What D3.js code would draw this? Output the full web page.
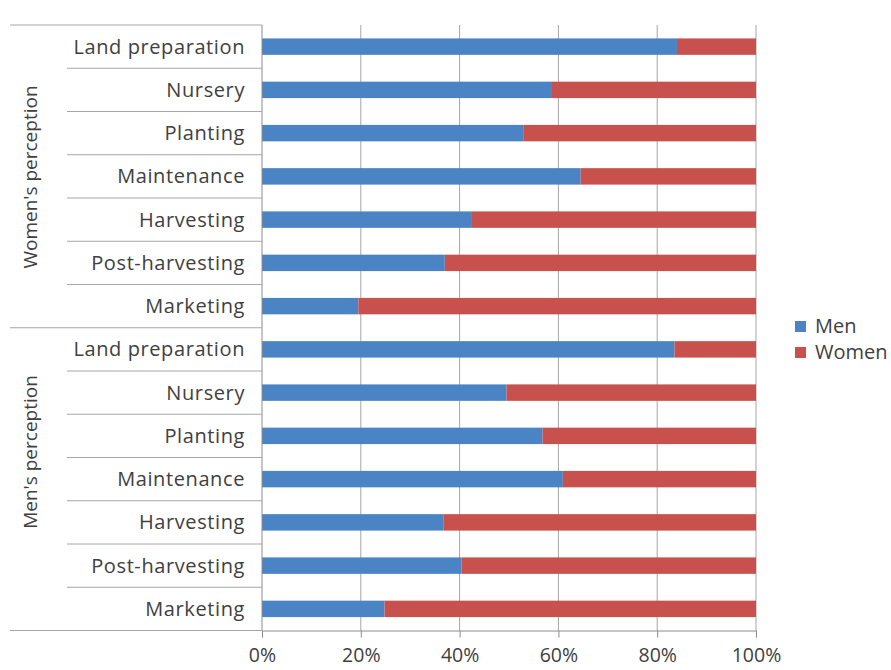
<!DOCTYPE html>
<html>
<head>
<meta charset="utf-8">
<script src="https://cdn.jsdelivr.net/npm/d3@7"></script>
<style>
  body { margin: 0; background: #fff; }
  svg { display: block; font-family: "Open Sans", sans-serif; }
  .cat-label { font-size: 20px; letter-spacing: 0.6px; fill: #404040; }
  .group-label { font-size: 19px; fill: #404040; }
  .tick text { font-size: 19.5px; fill: #404040; }
  .legend text { font-size: 20px; fill: #404040; }
</style>
</head>
<body>
<svg id="chart" width="891" height="670"></svg>
<script>
// ---- data (percent of activity done by men / women) ----
const groups = ["Women's perception", "Men's perception"];
const activities = ["Land preparation", "Nursery", "Planting", "Maintenance",
                    "Harvesting", "Post-harvesting", "Marketing"];
const menByWomenView   = [84, 58.7, 53, 64.5, 42.5, 37, 19.5];
const womenByWomenView = [16, 41.3, 47, 35.5, 57.5, 63, 80.5];
const menByMenView     = [83.5, 49.5, 56.8, 60.9, 36.7, 40.4, 24.8];
const womenByMenView   = [16.5, 50.5, 43.2, 39.1, 63.3, 59.6, 75.2];
const series = ["Men", "Women"];
const colors = ["#4a84c4", "#c9514d"];
const xTicks = [0, 0.2, 0.4, 0.6, 0.8, 1];

const rows = [];
groups.forEach((g, gi) => {
  const menVals = gi === 0 ? menByWomenView : menByMenView;
  const womenVals = gi === 0 ? womenByWomenView : womenByMenView;
  activities.forEach((a, i) => {
    rows.push({ key: g + "|" + a, group: g, activity: a, Men: menVals[i] / 100, Women: womenVals[i] / 100 });
  });
});

const svg = d3.select("#chart");
const plot = { left: 262, right: 756, top: 25, bottom: 630.5 };

const x = d3.scaleLinear().domain([0, 1]).range([plot.left, plot.right]);
const pad = 0.62;
const y = d3.scaleBand()
  .domain(rows.map(d => d.key))
  .range([plot.top, plot.bottom])
  .paddingInner(pad)
  .paddingOuter(pad / 2);
const gap = (y.step() - y.bandwidth()) / 2;

// gridlines
svg.append("g")
  .selectAll("line")
  .data(xTicks.slice(1))
  .join("line")
  .attr("x1", d => x(d)).attr("x2", d => x(d))
  .attr("y1", plot.top).attr("y2", plot.bottom)
  .attr("stroke", "#a6a6a6")
  .attr("stroke-width", 1);

// stacked bars
const stack = d3.stack().keys(series)(rows);
svg.append("g")
  .selectAll("g")
  .data(stack)
  .join("g")
  .attr("fill", (d, i) => colors[i])
  .selectAll("rect")
  .data(d => d)
  .join("rect")
  .attr("x", d => x(d[0]))
  .attr("width", d => x(d[1]) - x(d[0]))
  .attr("y", d => y(d.data.key))
  .attr("height", y.bandwidth());

// x axis
const xAxis = svg.append("g")
  .attr("transform", `translate(0,${plot.bottom})`)
  .call(d3.axisBottom(x).tickValues(xTicks).tickFormat(d3.format(".0%")).tickSize(7).tickPadding(11));
xAxis.select(".domain").attr("stroke", "#8c8c8c");
xAxis.selectAll(".tick line").attr("stroke", "#8c8c8c");
xAxis.selectAll(".tick text").attr("font-family", "Open Sans");

// y axis line
svg.append("line")
  .attr("x1", plot.left).attr("x2", plot.left)
  .attr("y1", plot.top).attr("y2", plot.bottom)
  .attr("stroke", "#8c8c8c");

// category separators (multi-level axis)
rows.forEach((d, i) => {
  const yb = y(d.key) - gap;
  const groupStart = i % activities.length === 0;
  svg.append("line")
    .attr("x1", groupStart ? 10 : 67).attr("x2", plot.left)
    .attr("y1", yb).attr("y2", yb)
    .attr("stroke", "#a6a6a6");
});
svg.append("line")
  .attr("x1", 10).attr("x2", plot.left)
  .attr("y1", plot.bottom).attr("y2", plot.bottom)
  .attr("stroke", "#a6a6a6");

// category labels
svg.append("g")
  .selectAll("text")
  .data(rows)
  .join("text")
  .attr("class", "cat-label")
  .attr("x", 245)
  .attr("y", d => y(d.key) + y.bandwidth() / 2)
  .attr("dy", "0.35em")
  .attr("text-anchor", "end")
  .text(d => d.activity);

// group labels
const groupCenters = [177, 452];
svg.append("g")
  .selectAll("text")
  .data(groups)
  .join("text")
  .attr("class", "group-label")
  .attr("transform", (d, i) => `translate(30,${groupCenters[i]}) rotate(-90)`)
  .attr("dy", "0.35em")
  .attr("text-anchor", "middle")
  .text(d => d);

// legend
const legend = svg.append("g").attr("class", "legend")
  .selectAll("g")
  .data(series)
  .join("g")
  .attr("transform", (d, i) => `translate(795,${326 + i * 26})`);
legend.append("rect")
  .attr("x", 0).attr("y", -5)
  .attr("width", 11).attr("height", 11)
  .attr("fill", (d, i) => colors[i]);
legend.append("text")
  .attr("x", 20)
  .attr("dy", "0.35em")
  .text(d => d);
</script>
</body>
</html>
